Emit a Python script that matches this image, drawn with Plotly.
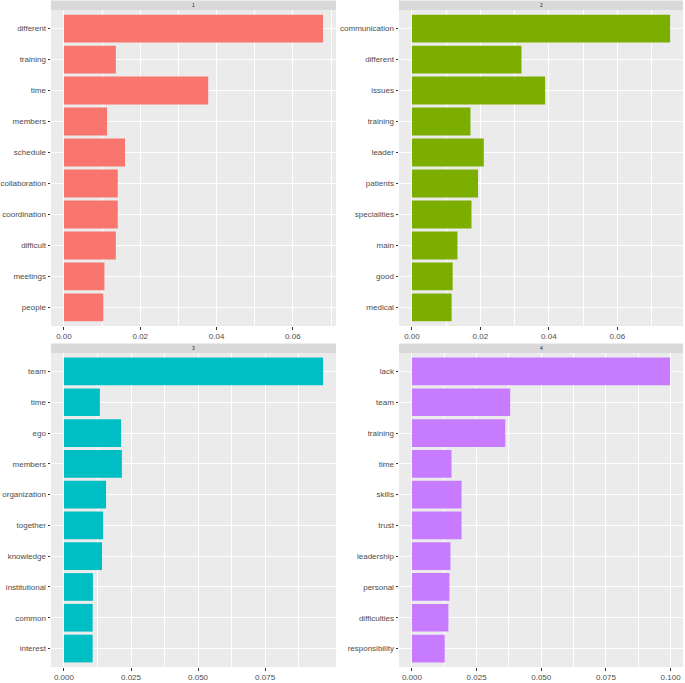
import plotly.graph_objects as go

terms1 = ["different", "training", "time", "members", "schedule", "collaboration",
          "coordination", "difficult", "meetings", "people"]
beta1 = [0.0679, 0.0136, 0.0378, 0.0113, 0.0160, 0.0141, 0.0141, 0.0136, 0.0106, 0.0103]

terms2 = ["communication", "different", "issues", "training", "leader", "patients",
          "specialities", "main", "good", "medical"]
beta2 = [0.0754, 0.0320, 0.0389, 0.0171, 0.0210, 0.0193, 0.0174, 0.0133, 0.0119, 0.0116]

terms3 = ["team", "time", "ego", "members", "organization", "together", "knowledge",
          "institutional", "common", "interest"]
beta3 = [0.0966, 0.0134, 0.0213, 0.0216, 0.0157, 0.0146, 0.0142, 0.0108, 0.0107, 0.0107]

terms4 = ["lack", "team", "training", "time", "skills", "trust", "leadership",
          "personal", "difficulties", "responsibility"]
beta4 = [0.0998, 0.0380, 0.0361, 0.0153, 0.0192, 0.0192, 0.0149, 0.0145, 0.0141, 0.0127]

topics = ["1", "2", "3", "4"]
colors = ["#F8766D", "#7CAE00", "#00BFC4", "#C77CFF"]
xticks = [[0, 0.02, 0.04, 0.06], [0, 0.02, 0.04, 0.06],
          [0, 0.025, 0.05, 0.075], [0, 0.025, 0.05, 0.075, 0.1]]
xticktext = [["0.00", "0.02", "0.04", "0.06"], ["0.00", "0.02", "0.04", "0.06"],
             ["0.000", "0.025", "0.050", "0.075"], ["0.000", "0.025", "0.050", "0.075", "0.100"]]
minor_dt = [0.01, 0.01, 0.0125, 0.0125]

W, H = 685, 683
xdom_px = [(51, 336), (399, 683), (51, 336), (399, 683)]
ydom_px = [(10, 326), (10, 326), (353, 667), (353, 667)]
strip_h = 9.5
FONT = "Liberation Sans, Arial"

data = [(terms1, beta1), (terms2, beta2), (terms3, beta3), (terms4, beta4)]

fig = go.Figure()
shapes = []
annotations = []
layout = {}
for i, (terms, vals) in enumerate(data):
    n = i + 1
    xa = "x" if n == 1 else f"x{n}"
    ya = "y" if n == 1 else f"y{n}"
    fig.add_trace(go.Bar(x=vals, y=terms, orientation="h", marker_color=colors[i],
                         marker_line_width=0, width=0.9, xaxis=xa, yaxis=ya,
                         showlegend=False))
    x0, x1 = xdom_px[i]
    y0, y1 = ydom_px[i]
    mx = max(vals)
    layout["xaxis" if n == 1 else f"xaxis{n}"] = dict(
        domain=[x0 / W, x1 / W], anchor=ya, range=[-0.05 * mx, 1.05 * mx],
        tickvals=xticks[i], ticktext=xticktext[i], showgrid=True, gridcolor="white",
        gridwidth=1, zeroline=False, ticks="outside", ticklen=2.5, tickwidth=0.6,
        tickcolor="#333333", tickfont=dict(size=8, color="#4D4D4D", family=FONT),
        ticklabelstandoff=0,
        minor=dict(tickvals=[v + minor_dt[i] for v in xticks[i]], showgrid=True,
                   gridcolor="white", gridwidth=0.5, ticks=""),
        showline=False, fixedrange=True, automargin=False)
    layout["yaxis" if n == 1 else f"yaxis{n}"] = dict(
        domain=[1 - y1 / H, 1 - y0 / H], anchor=xa, type="category",
        categoryorder="array", categoryarray=terms, range=[9.6, -0.6],
        showgrid=True, gridcolor="white", gridwidth=1, zeroline=False,
        ticks="outside", ticklen=2.5, tickwidth=0.6, tickcolor="#333333",
        tickfont=dict(size=8, color="#4D4D4D", family=FONT),
        showline=False, fixedrange=True, automargin=False)
    shapes.append(dict(type="rect", xref="paper", yref="paper", x0=x0 / W, x1=x1 / W,
                       y0=1 - y1 / H, y1=1 - y0 / H, fillcolor="#EBEBEB",
                       line_width=0, layer="below"))
    shapes.append(dict(type="rect", xref="paper", yref="paper", x0=x0 / W, x1=x1 / W,
                       y0=1 - y0 / H, y1=1 - (y0 - strip_h) / H, fillcolor="#D9D9D9",
                       line_width=0, layer="below"))
    annotations.append(dict(text=topics[i], xref="paper", yref="paper",
                            x=(x0 + x1) / 2 / W, y=1 - (y0 - strip_h / 2) / H,
                            showarrow=False, font=dict(size=5, color="#1A1A1A", family=FONT),
                            xanchor="center", yanchor="middle"))

fig.update_layout(**layout)
fig.update_layout(width=W, height=H, margin=dict(l=0, r=0, t=0, b=0, autoexpand=False),
                  paper_bgcolor="white", plot_bgcolor="#EBEBEB",
                  shapes=shapes, annotations=annotations, bargap=0.1)
fig.write_html("out.html", config={"displayModeBar": False},
               post_script="document.body.style.margin='0';document.body.style.overflow='hidden';")
